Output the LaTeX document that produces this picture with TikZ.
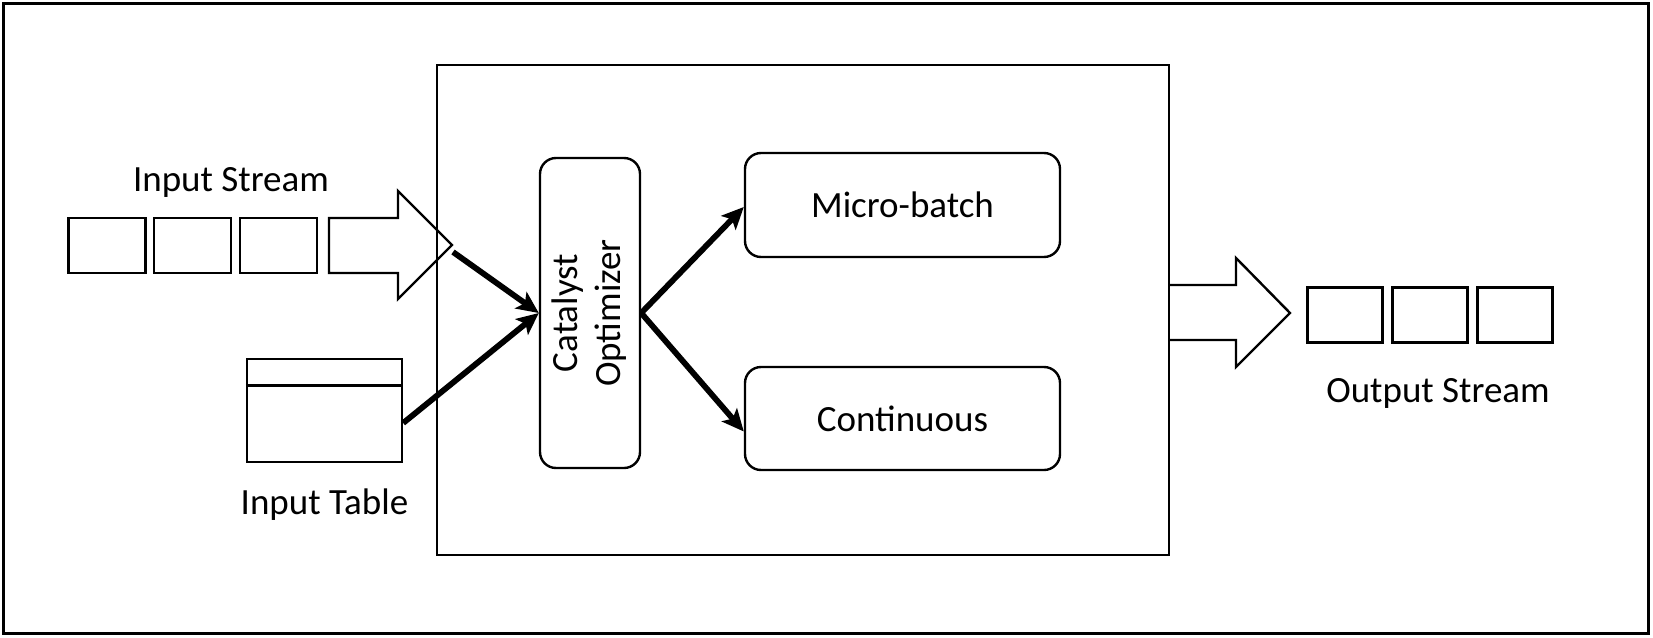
\documentclass[tikz,border=0pt]{standalone}
\usepackage{fontspec}
\setmainfont{Carlito}
\usetikzlibrary{arrows.meta}
\tikzset{
  frame/.style={draw, line width=1.5pt},
  cell/.style={draw, line width=1.2pt, inner sep=0pt, minimum width=38.5pt, minimum height=27.5pt},
  rbox/.style={draw, line width=1.2pt, rounded corners=8pt, inner sep=0pt},
  blockarrow/.style={draw, line width=1.2pt, fill=white, line join=miter},
  flow/.style={line width=2.9pt, -{Stealth[length=11pt, width=10pt, inset=2.5pt]}},
  lbl/.style={font=\fontsize{18.5pt}{22pt}\selectfont, inner sep=0pt}
}
\begin{document}
\begin{tikzpicture}[x=0.5pt, y=-0.5pt]
\useasboundingbox (0,0) rectangle (1653,637);
% outer frame
\node[frame, inner sep=0pt, minimum width=822.5pt, minimum height=315pt] (outer) at (825.5,318) {};
% input stream cells
\node[cell] (i1) at (107,245.5) {};
\node[cell] (i2) at (192.5,245.5) {};
\node[cell] (i3) at (278.5,245.5) {};
% input block arrow
\path[blockarrow] (329,218) -- (398,218) -- (398,191) -- (452,245) -- (398,299) -- (398,273) -- (329,273) -- cycle;
\coordinate (istip) at (453,252);
% output block arrow
\path[blockarrow] (1169,285) -- (1236,285) -- (1236,258) -- (1290,313) -- (1236,367) -- (1236,340) -- (1169,340);
% main box
\node[frame, line width=1.3pt, inner sep=0pt, minimum width=366pt, minimum height=245pt] (main) at (803,310) {};
% labels
\node[lbl] (istream) at (231,182) {Input Stream};
% input table
\node[draw, line width=1.2pt, inner sep=0pt, minimum width=77.5pt, minimum height=51.5pt] (table) at (324.5,410.5) {};
\draw[line width=1.4pt] (table.north west) ++(0,-14pt) coordinate (tdl) -- (tdl -| table.east);
\node[lbl] (itable) at (324.5,505) {Input Table};
% catalyst
\node[rbox, minimum width=50pt, minimum height=155pt] (cat) at (590,313)
  {\fontsize{18.5pt}{21.5pt}\selectfont\rotatebox{90}{\begin{tabular}{@{}c@{}}Catalyst\\[0pt]Optimizer\end{tabular}}};
% modes
\node[rbox, minimum width=157.5pt, minimum height=52pt, lbl] (micro) at (902.5,205) {Micro-batch};
\node[rbox, minimum width=157.5pt, minimum height=51.5pt, lbl] (cont) at (902.5,418.5) {Continuous};
% output cells
\node[cell, minimum width=37.5pt] (o1) at (1345,315) {};
\node[cell, minimum width=37.5pt] (o2) at (1430,315) {};
\node[cell, minimum width=37.5pt] (o3) at (1515,315) {};
\node[lbl] (ostream) at (1438,393) {Output Stream};
% connectors
\draw[flow] (istip) -- (cat.west);
\draw[flow] ([yshift=-6.25pt]table.east) -- (cat.west);
\draw[flow] (cat.east) -- ([yshift=-1pt]micro.west);
\draw[flow] (cat.east) -- ([yshift=-6.5pt]cont.west);
\end{tikzpicture}
\end{document}
